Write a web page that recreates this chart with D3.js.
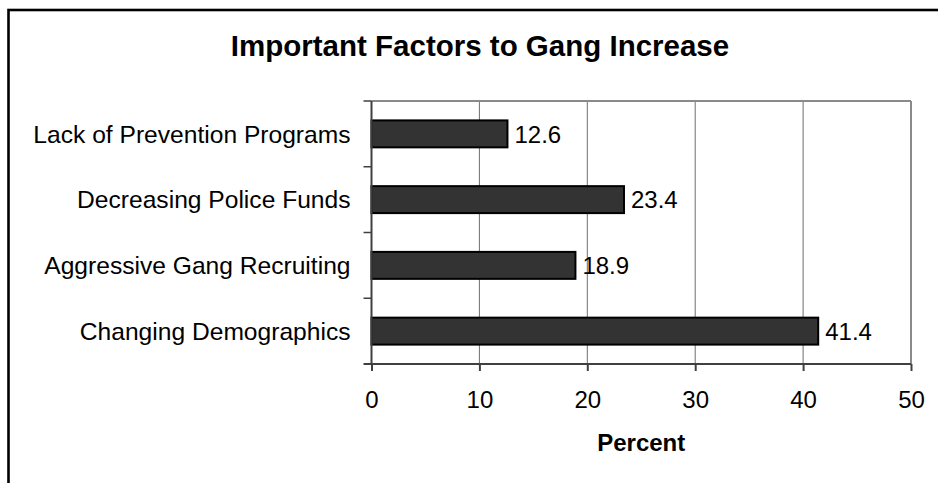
<!DOCTYPE html>
<html>
<head>
<meta charset="utf-8">
<script src="https://cdn.jsdelivr.net/npm/d3@7"></script>
<style>
  html, body { margin: 0; padding: 0; background: #fff; }
  svg { display: block; }
  text { font-family: "Liberation Sans", Arial, sans-serif; fill: #000; }
</style>
</head>
<body>
<svg id="chart" width="938" height="483"></svg>
<script>
// Chart data
const categories = [
  "Lack of Prevention Programs",
  "Decreasing Police Funds",
  "Aggressive Gang Recruiting",
  "Changing Demographics"
];
const percentValues = [12.6, 23.4, 18.9, 41.4];
const xTicks = [0, 10, 20, 30, 40, 50];
const chartTitle = "Important Factors to Gang Increase";
const xAxisTitle = "Percent";

const rows = categories.map((c, i) => ({ category: c, value: percentValues[i] }));

const svg = d3.select("#chart");
const W = 938, H = 483;

// Outer frame (runs off the right and bottom edges)
svg.append("rect")
  .attr("x", 8.5).attr("y", 10)
  .attr("width", W + 20).attr("height", H + 20)
  .attr("fill", "#fff")
  .attr("stroke", "#000")
  .attr("stroke-width", 2.6);

const plot = { left: 371.5, right: 911, top: 101, bottom: 364 };

const x = d3.scaleLinear().domain([0, 50]).range([plot.left, plot.right]);
const y = d3.scaleBand().domain(categories).range([plot.top, plot.bottom]).paddingInner(0.59).paddingOuter(0.295);
const yEdges = d3.scaleBand().domain(categories).range([plot.top, plot.bottom]);

// Title
svg.append("text")
  .attr("x", 480).attr("y", 56)
  .attr("text-anchor", "middle")
  .attr("font-size", 29.5)
  .attr("font-weight", "bold")
  .text(chartTitle);

// Gridlines and plot border
const g = svg.append("g");
g.selectAll("line.grid")
  .data(xTicks.filter(t => t > 0))
  .join("line")
  .attr("class", "grid")
  .attr("x1", d => x(d)).attr("x2", d => x(d))
  .attr("y1", plot.top).attr("y2", plot.bottom)
  .attr("stroke", d => d === 50 ? "#8a8a8a" : "#6e6e6e")
  .attr("stroke-width", d => d === 50 ? 2 : 1);
g.append("line")
  .attr("x1", plot.left).attr("x2", plot.right)
  .attr("y1", plot.top).attr("y2", plot.top)
  .attr("stroke", "#8a8a8a").attr("stroke-width", 2);

// Bars
g.selectAll("rect.bar")
  .data(rows)
  .join("rect")
  .attr("class", "bar")
  .attr("x", x(0))
  .attr("y", d => y(d.category))
  .attr("width", d => x(d.value) - x(0))
  .attr("height", y.bandwidth())
  .attr("fill", "#333333")
  .attr("stroke", "#000")
  .attr("stroke-width", 2);

// Value labels
g.selectAll("text.val")
  .data(rows)
  .join("text")
  .attr("class", "val")
  .attr("x", d => x(d.value) + 7)
  .attr("y", d => y(d.category) + y.bandwidth() / 2)
  .attr("dy", "0.36em")
  .attr("font-size", 24)
  .text(d => d.value.toFixed(1));

// Bottom axis
const xAxis = d3.axisBottom(x).tickValues(xTicks).tickSize(7).tickPadding(20).tickFormat(d3.format("d"));
const gx = svg.append("g").attr("transform", `translate(0,${plot.bottom})`).call(xAxis);
gx.select(".domain").attr("stroke", "#404040").attr("stroke-width", 2).attr("d", `M${plot.left - 8},0H${plot.right}`);
gx.selectAll(".tick line").attr("stroke", "#404040").attr("stroke-width", 2);
gx.selectAll(".tick text").attr("font-size", 24).attr("fill", "#000")
  .attr("font-family", "'Liberation Sans', Arial, sans-serif");

// Left axis: ticks at category boundaries, labels centred on bars
const gy = svg.append("g");
gy.append("line")
  .attr("x1", plot.left).attr("x2", plot.left)
  .attr("y1", plot.top).attr("y2", plot.bottom)
  .attr("stroke", "#404040").attr("stroke-width", 2);
gy.selectAll("line.tk")
  .data(categories)
  .join("line")
  .attr("class", "tk")
  .attr("x1", plot.left - 8).attr("x2", plot.left)
  .attr("y1", d => yEdges(d)).attr("y2", d => yEdges(d))
  .attr("stroke", "#404040").attr("stroke-width", 1.5);
gy.selectAll("text.cat")
  .data(categories)
  .join("text")
  .attr("class", "cat")
  .attr("x", plot.left - 21)
  .attr("y", d => y(d) + y.bandwidth() / 2)
  .attr("dy", "0.36em")
  .attr("text-anchor", "end")
  .attr("font-size", 24.6)
  .text(d => d);

// Axis title
svg.append("text")
  .attr("x", (plot.left + plot.right) / 2).attr("y", 451)
  .attr("text-anchor", "middle")
  .attr("font-size", 24)
  .attr("font-weight", "bold")
  .text(xAxisTitle);
</script>
</body>
</html>
